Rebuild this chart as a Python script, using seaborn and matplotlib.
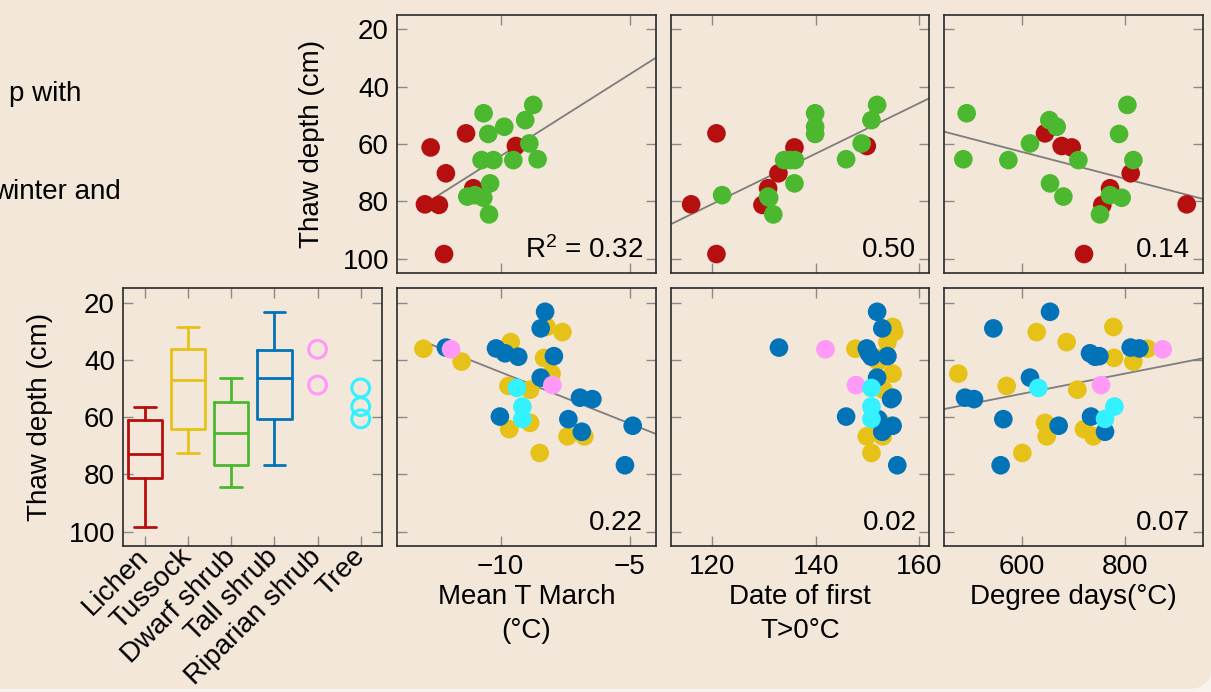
import numpy as np
import pandas as pd
import matplotlib
matplotlib.use("Agg")
import matplotlib.pyplot as plt
from matplotlib.patches import FancyBboxPatch
from matplotlib.transforms import IdentityTransform
import seaborn as sns

# ---- values ---------------------------------------------------------------
veg_names = ['Lichen', 'Tussock', 'Dwarf shrub', 'Tall shrub', 'Riparian shrub', 'Tree']
veg_colors = ['#b50f0f', '#e6c118', '#4bb82f', '#0373b8', '#ff99f8', '#33f1ff']

# thaw depth (cm) per site, by vegetation class
lichen_depth = [56.3, 60.7, 61.2, 70.2, 75.4, 81.0, 81.2, 98.3]
dwarf_depth = [46.4, 49.3, 51.7, 54.0, 56.5, 59.8, 65.3, 65.6, 65.6, 65.6, 73.7, 77.8, 78.3, 78.7, 84.5]
tussock_depth = [28.5, 30.3, 33.8, 36.1, 39.3, 40.6, 44.8, 49.1, 50.4, 62.0, 64.2, 66.7, 66.7, 72.5]
tall_depth = [23.2, 29.0, 35.7, 36.0, 37.7, 38.7, 38.9, 46.2, 53.2, 53.7, 59.8, 60.7, 63.0, 65.1, 76.8]
riparian_depth = [36.3, 48.8]
tree_depth = [49.8, 56.3, 60.6]

# mean T March (deg C)
lichen_tmar = [-11.34, -9.41, -12.71, -12.12, -11.06, -12.93, -12.39, -12.19]
dwarf_tmar = [-8.74, -10.66, -9.05, -9.86, -10.48, -8.89, -8.57, -10.74, -10.28, -9.51, -10.41, -11.0, -11.29, -10.67, -10.45]
tussock_tmar = [-8.22, -7.61, -9.61, -12.99, -8.32, -11.51, -8.03, -9.70, -8.86, -8.86, -9.67, -7.41, -6.76, -8.49]
tall_tmar = [-8.28, -8.45, -12.12, -10.18, -9.83, -7.94, -9.32, -8.45, -6.93, -6.45, -10.03, -7.38, -4.89, -6.86, -5.19]
riparian_tmar = [-11.92, -8.0]
tree_tmar = [-9.37, -9.16, -9.16]

# date of first T>0 (day of year)
lichen_date = [120.8, 149.9, 135.9, 132.8, 130.8, 115.9, 129.7, 120.8]
dwarf_date = [151.9, 139.9, 150.8, 139.9, 139.9, 148.9, 145.9, 133.9, 136.0, 135.0, 135.9, 121.9, 130.8, 131.0, 131.8]
tussock_date = [154.9, 155.2, 153.9, 147.7, 152.5, 152.1, 154.9, 152.0, 153.1, 152.8, 152.3, 149.9, 153.0, 150.8]
tall_date = [151.9, 152.9, 132.9, 149.9, 150.3, 153.9, 150.8, 151.9, 154.9, 154.6, 145.9, 152.1, 154.9, 152.9, 155.8]
riparian_date = [141.9, 147.8]
tree_date = [150.8, 150.8, 150.8]

# degree days
lichen_dd = [645.2, 677.4, 696.8, 810.8, 770.9, 919.1, 756.0, 720.6]
dwarf_dd = [804.4, 493.8, 653.6, 667.8, 788.3, 616.2, 487.4, 574.4, 709.7, 816.0, 654.9, 770.9, 680.7, 793.4, 751.5]
tussock_dd = [777.3, 629.1, 687.1, 843.0, 778.6, 815.9, 477.7, 571.1, 707.7, 645.2, 720.6, 648.5, 738.7, 601.4]
tall_dd = [654.9, 545.4, 810.8, 827.6, 732.2, 750.2, 742.0, 616.2, 490.6, 508.0, 734.1, 564.7, 671.6, 761.2, 559.5]
riparian_dd = [872.7, 753.5]
tree_dd = [632.3, 779.3, 761.2]

# fitted lines (slope, intercept, x from, x to) and R^2 per panel:
# top row temp, date, dd, then bottom row temp, date, dd
fit_slope = [-5.69, -0.876, 0.0468, 3.59, np.nan, -0.0354]
fit_icpt = [7.26, 186.0, 34.64, 80.2, np.nan, 73.1]
fit_from = [-12.45, 112, 450, -12.96, np.nan, 450]
fit_to = [-4, 162, 950, -4, np.nan, 950]
r2_text = ['R$^2$ = 0.32', '0.50', '0.14', '0.22', '0.02', '0.07']

# ---------------------------------------------------------------------------
sns.set_theme(style='ticks')
plt.rcParams['font.family'] = ['Liberation Sans', 'DejaVu Sans']
plt.rcParams['mathtext.fontset'] = 'custom'
plt.rcParams['mathtext.rm'] = 'Liberation Sans'
plt.rcParams['mathtext.it'] = 'Liberation Sans:italic'
plt.rcParams['text.color'] = 'black'
plt.rcParams['axes.labelcolor'] = 'black'

FS = 20
bg = '#f3e7da'
W, H = 1211, 692
fig = plt.figure(figsize=(W / 100, H / 100), dpi=100)
fig.patch.set_facecolor('#f9f3ee')
fig.patches.append(FancyBboxPatch((-100, 3), W + 1 + 100, H + 100,
                                  boxstyle='round,pad=0,rounding_size=24',
                                  transform=IdentityTransform(), fc=bg, ec='none', zorder=-10))


def px_axes(left, top, right, bottom):
    return fig.add_axes([left / W, 1 - bottom / H, (right - left) / W, (bottom - top) / H])


def style_axes(ax, xlim, xticks):
    ax.set_facecolor('none')
    ax.set_xlim(xlim)
    ax.set_ylim(105, 15)
    ax.set_xticks(xticks)
    ax.set_yticks([20, 40, 60, 80, 100])
    ax.tick_params(direction='in', length=7, width=1, color='#8a8a8a', top=True, right=True,
                   labelsize=FS, pad=6, labelcolor='black')
    for s in ax.spines.values():
        s.set_visible(True)
        s.set_color('#2a2a2a')
        s.set_linewidth(1.2)
    ax.set_xlabel('')
    ax.set_ylabel('')


cols = [(397.3, 655.7), (671, 929.3), (944, 1202.7)]
rows = [(14.7, 273.3), (288.3, 546)]
xlims = [(-14, -4), (112, 162), (450, 950)]
xticks = [[-10, -5], [120, 140, 160], [600, 800]]
xlabels = ['Mean T March\n(°C)', 'Date of first\nT>0°C', 'Degree days(°C)']

top_x = [(lichen_tmar, dwarf_tmar), (lichen_date, dwarf_date), (lichen_dd, dwarf_dd)]
bot_x = [(tussock_tmar, tall_tmar, riparian_tmar, tree_tmar),
         (tussock_date, tall_date, riparian_date, tree_date),
         (tussock_dd, tall_dd, riparian_dd, tree_dd)]
top_y = (lichen_depth, dwarf_depth)
bot_y = (tussock_depth, tall_depth, riparian_depth, tree_depth)
top_names = ['Lichen', 'Dwarf shrub']
bot_names = ['Tussock', 'Tall shrub', 'Riparian shrub', 'Tree']
palette = dict(zip(veg_names, veg_colors))

for r in range(2):
    for c in range(3):
        ax = px_axes(cols[c][0], rows[r][0], cols[c][1], rows[r][1])
        if r == 0:
            xs, ys, names = top_x[c], top_y, top_names
        else:
            xs, ys, names = bot_x[c], bot_y, bot_names
        df = pd.concat([pd.DataFrame({'x': x, 'depth': y, 'veg': n})
                        for x, y, n in zip(xs, ys, names)], ignore_index=True)
        sns.scatterplot(data=df, x='x', y='depth', hue='veg', palette=palette, s=180,
                        linewidth=0, alpha=1, legend=False, ax=ax, zorder=3)
        k = r * 3 + c
        if not np.isnan(fit_slope[k]):
            lx = np.array([fit_from[k], fit_to[k]])
            ax.plot(lx, fit_icpt[k] + fit_slope[k] * lx, color='#7d7d7d', lw=1.3, zorder=2)
        ax.text(0.95, 0.09, r2_text[k], transform=ax.transAxes, ha='right', va='center',
                fontsize=FS, zorder=5)
        style_axes(ax, xlims[c], xticks[c])
        if r == 0:
            ax.tick_params(labelbottom=False)
        else:
            ax.set_xlabel(xlabels[c], fontsize=FS, linespacing=1.4, labelpad=3)
        if not (r == 0 and c == 0):
            ax.tick_params(labelleft=False)
        else:
            ax.set_ylabel('Thaw depth (cm)', fontsize=FS, va='center')
            ax.yaxis.set_label_coords(-0.33, 0.5)

# ---- box plot panel -------------------------------------------------------
axb = px_axes(123.3, 288.3, 382.3, 546)
box_data = [lichen_depth, tussock_depth, dwarf_depth, tall_depth]
stats = []
for name, d in zip(veg_names[:4], box_data):
    q1, med, q3 = np.percentile(d, [25, 50, 75], method='hazen')
    stats.append(dict(label=name, whislo=min(d), q1=q1, med=med, q3=q3, whishi=max(d), fliers=[]))
art = axb.bxp(stats, positions=[0, 1, 2, 3], widths=0.8, capwidths=0.5, showfliers=False,
              manage_ticks=False)
for i in range(4):
    col = veg_colors[i]
    art['boxes'][i].set(color=col, linewidth=2)
    art['medians'][i].set(color=col, linewidth=2)
    for j in (2 * i, 2 * i + 1):
        art['whiskers'][j].set(color=col, linewidth=2, linestyle='-')
        art['caps'][j].set(color=col, linewidth=2)

for pos, d, col in [(4, riparian_depth, veg_colors[4]), (5, tree_depth, veg_colors[5])]:
    axb.scatter(np.full(len(d), pos), d, s=165, facecolors='none', edgecolors=col, linewidths=2.2)

style_axes(axb, (-0.5, 5.5), range(6))
axb.set_xticklabels(veg_names, rotation=45, ha='right', rotation_mode='anchor', va='center')
axb.tick_params(axis='x', pad=5)
axb.set_ylabel('Thaw depth (cm)', fontsize=FS, va='center')
axb.yaxis.set_label_coords(-0.32, 0.5)

# ---- slide text cut at the left edge ---------------------------------------
fig.text(81 / W, 1 - 101 / H, 'p with', fontsize=FS, ha='right', va='baseline')
fig.text(121 / W, 1 - 199 / H, 'winter and', fontsize=FS, ha='right', va='baseline')

fig.savefig('out.png', dpi=100, facecolor=fig.get_facecolor())
